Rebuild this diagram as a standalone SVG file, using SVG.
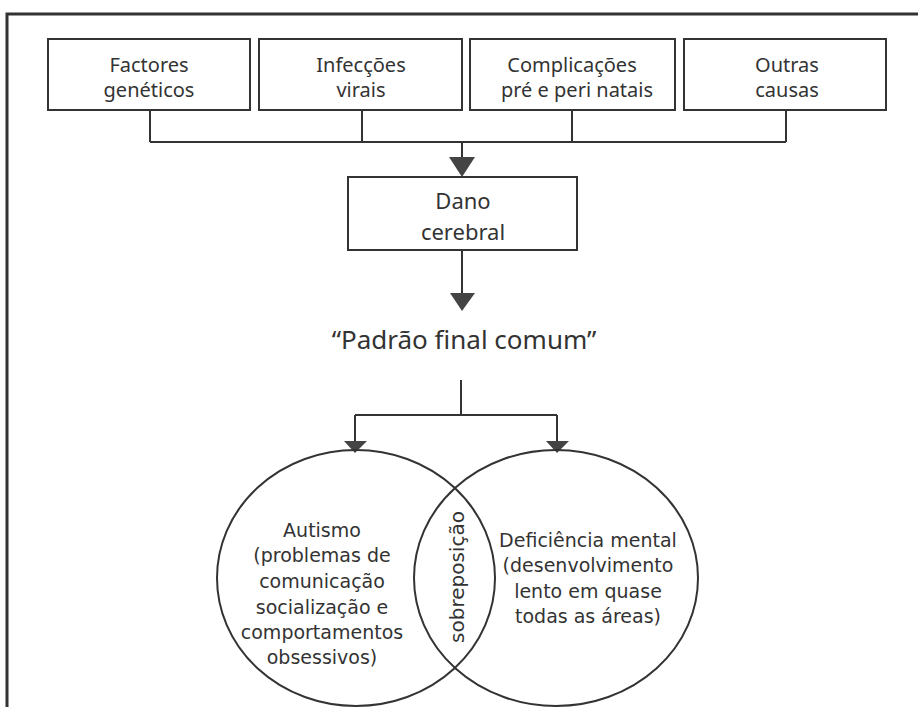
<svg xmlns="http://www.w3.org/2000/svg" width="918" height="707" viewBox="0 0 918 707">
<style>
text{font-family:"DejaVu Sans","Liberation Sans",sans-serif;fill:#333;text-anchor:middle}
.box{fill:#fff;stroke:#333;stroke-width:2}
.ln{fill:none;stroke:#333;stroke-width:2}
.arr{fill:#444;stroke:none}
.top{font-family:"Noto Sans","DejaVu Sans",sans-serif;font-size:20px}
.mid{font-family:"Noto Sans","DejaVu Sans",sans-serif;font-size:22px}
.cir{font-size:19px}
</style>
<rect x="0" y="0" width="918" height="707" fill="#fff"/>
<path d="M7,707 V14 H918" fill="none" stroke="#333" stroke-width="3"/>
<g id="connectors">
<path class="ln" d="M150,110 V142 M362,110 V142 M572,110 V142 M786,110 V142 M150,142 H786 M462,142 V160"/>
<polygon class="arr" points="449,157 475,157 462,177"/>
<path class="ln" d="M462,250 V296"/>
<polygon class="arr" points="450,293 475,293 462,311"/>
<path class="ln" d="M461,380 V415 M355,415 H557 M355,415 V443 M557,415 V443"/>
<polygon class="arr" points="344,441 367,441 355,453"/>
<polygon class="arr" points="546,441 569,441 557,453"/>
</g>
<g id="n1"><rect class="box" x="48" y="39" width="202" height="71"/><text class="top" x="149" y="72">Factores</text><text class="top" x="149" y="97">genéticos</text></g>
<g id="n2"><rect class="box" x="259" y="39" width="203" height="71"/><text class="top" x="361" y="72">Infecções</text><text class="top" x="361" y="97">virais</text></g>
<g id="n3"><rect class="box" x="470" y="39" width="205" height="71"/><text class="top" x="572" y="72">Complicações</text><text class="top" x="577" y="97">pré e peri natais</text></g>
<g id="n4"><rect class="box" x="684" y="39" width="202" height="71"/><text class="top" x="787" y="72">Outras</text><text class="top" x="787" y="97">causas</text></g>
<g id="n5"><rect class="box" x="348" y="177" width="229" height="73"/><text class="mid" x="463" y="209">Dano</text><text class="mid" x="463" y="240">cerebral</text></g>
<g id="n6"><text x="464" y="349" style="font-family:'Noto Sans','DejaVu Sans',sans-serif;font-size:26px">“Padrão final comum”</text></g>
<g id="n7"><ellipse class="ln" cx="356" cy="578" rx="139" ry="128"/>
<text class="cir" x="322" y="537">Autismo</text>
<text class="cir" x="322" y="562">(problemas de</text>
<text class="cir" x="322" y="588">comunicação</text>
<text class="cir" x="322" y="614">socialização e</text>
<text class="cir" x="322" y="639">comportamentos</text>
<text class="cir" x="322" y="664">obsessivos)</text>
</g>
<g id="n8"><ellipse class="ln" cx="556" cy="578" rx="142" ry="128"/>
<text class="cir" x="588" y="547">Deficiência mental</text>
<text class="cir" x="588" y="572">(desenvolvimento</text>
<text class="cir" x="588" y="598">lento em quase</text>
<text class="cir" x="588" y="623">todas as áreas)</text>
</g>
<g id="n9"><text class="cir" transform="translate(464,577) rotate(-90)" x="0" y="0" style="font-size:20px">sobreposição</text></g>
</svg>
